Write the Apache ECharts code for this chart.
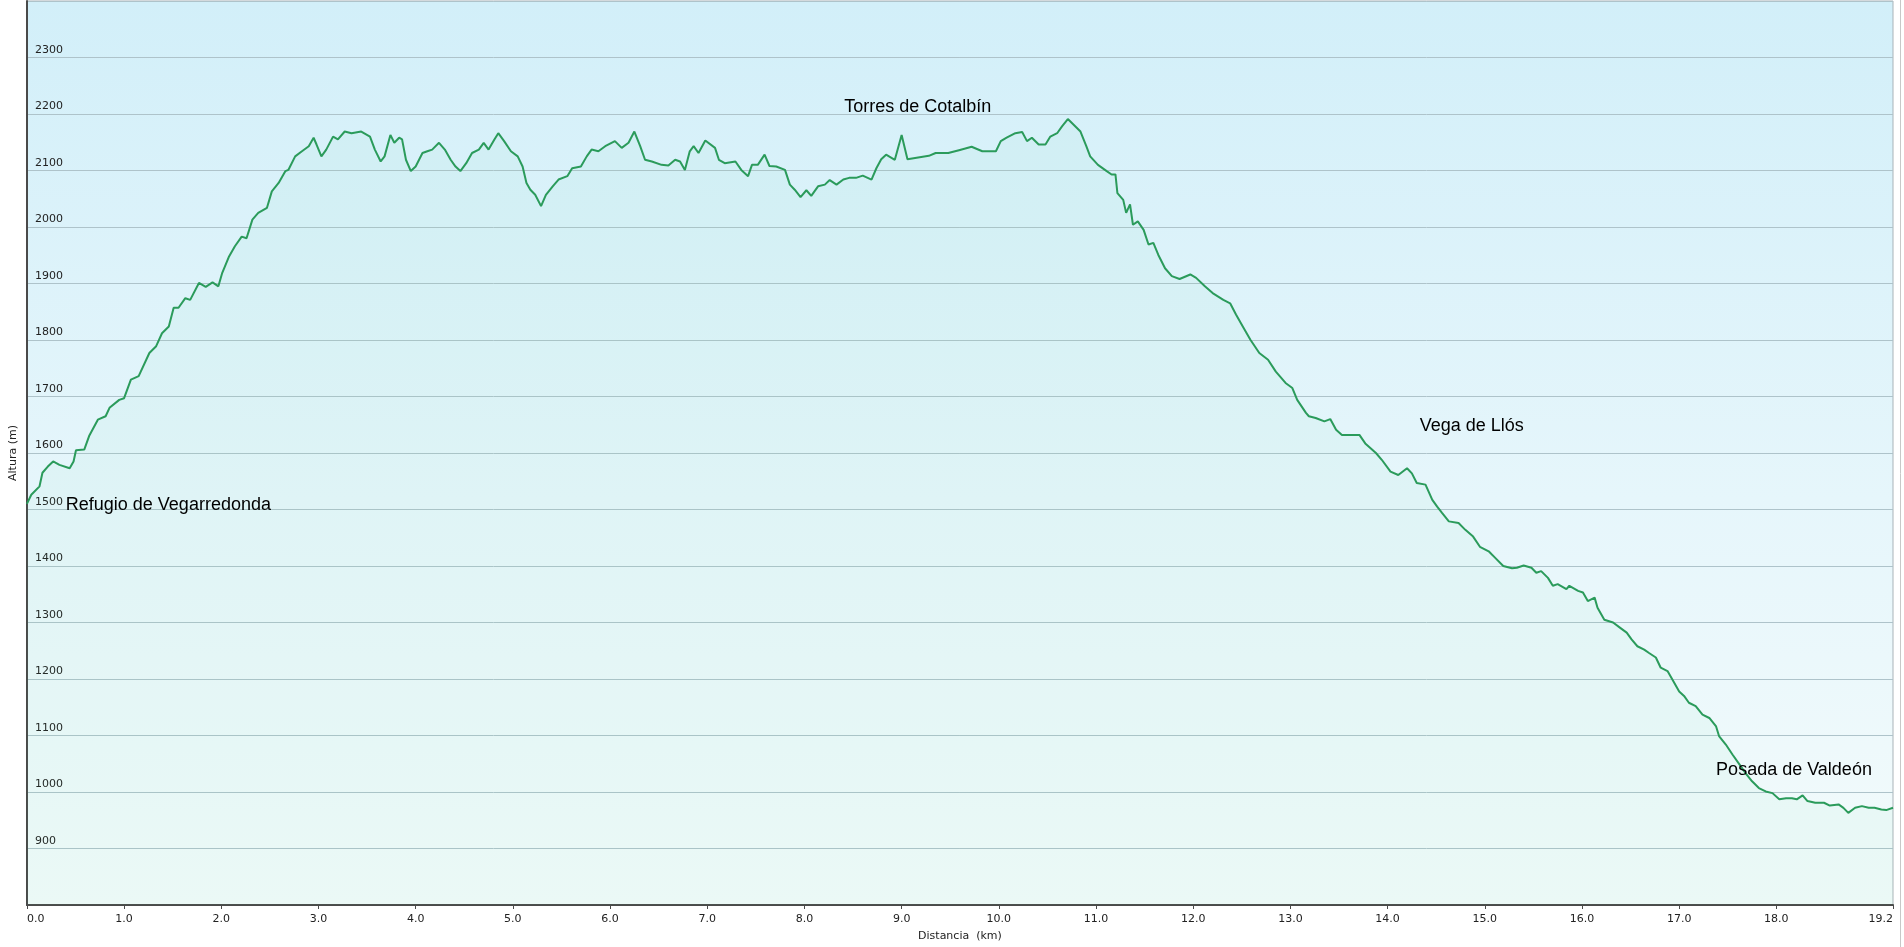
<!DOCTYPE html>
<html>
<head>
<meta charset="utf-8">
<script src="https://cdn.jsdelivr.net/npm/echarts@6/dist/echarts.min.js"></script>
<style>
html,body{margin:0;padding:0;background:#fff;}
#chart{width:1904px;height:947px;}
</style>
</head>
<body>
<div id="chart"></div>
<script>
const distKm = [0.00,0.045,0.13,0.16,0.215,0.27,0.335,0.44,0.48,0.505,0.59,0.64,0.73,0.81,0.85,0.95,1.00,1.07,1.15,1.26,1.33,1.39,1.46,1.51,1.56,1.63,1.68,1.77,1.84,1.91,1.97,2.01,2.08,2.14,2.21,2.26,2.32,2.38,2.47,2.52,2.59,2.66,2.69,2.76,2.83,2.90,2.95,2.98,3.03,3.08,3.15,3.20,3.27,3.34,3.44,3.53,3.58,3.64,3.68,3.74,3.78,3.83,3.86,3.90,3.95,4.00,4.07,4.12,4.17,4.24,4.30,4.36,4.41,4.46,4.52,4.58,4.65,4.70,4.75,4.81,4.85,4.91,4.98,5.05,5.10,5.14,5.18,5.23,5.29,5.34,5.41,5.47,5.56,5.61,5.70,5.76,5.81,5.88,5.95,6.05,6.12,6.19,6.25,6.31,6.36,6.43,6.53,6.60,6.67,6.72,6.77,6.82,6.86,6.91,6.98,7.08,7.12,7.18,7.29,7.35,7.42,7.46,7.52,7.59,7.64,7.71,7.80,7.85,7.90,7.96,8.02,8.07,8.14,8.21,8.26,8.33,8.40,8.46,8.53,8.60,8.69,8.74,8.79,8.84,8.93,9.00,9.06,9.28,9.35,9.48,9.59,9.72,9.83,9.97,10.02,10.08,10.17,10.24,10.29,10.34,10.41,10.48,10.53,10.60,10.65,10.71,10.77,10.84,10.90,10.94,11.02,11.11,11.16,11.20,11.22,11.28,11.31,11.35,11.38,11.43,11.49,11.54,11.59,11.64,11.71,11.78,11.86,11.97,12.03,12.12,12.20,12.31,12.38,12.44,12.51,12.59,12.68,12.77,12.85,12.95,13.02,13.07,13.16,13.19,13.26,13.35,13.41,13.47,13.53,13.64,13.71,13.77,13.88,13.94,14.03,14.11,14.20,14.25,14.30,14.39,14.46,14.51,14.56,14.63,14.73,14.80,14.88,14.95,15.04,15.11,15.19,15.28,15.33,15.40,15.48,15.53,15.58,15.65,15.70,15.75,15.84,15.87,15.96,16.01,16.06,16.13,16.16,16.23,16.32,16.39,16.46,16.51,16.57,16.64,16.69,16.76,16.81,16.88,16.93,17.00,17.05,17.10,17.17,17.24,17.31,17.38,17.41,17.48,17.55,17.62,17.68,17.75,17.82,17.89,17.96,18.03,18.10,18.16,18.21,18.27,18.32,18.40,18.49,18.55,18.64,18.69,18.74,18.81,18.88,18.95,19.01,19.08,19.13,19.20];
const altM = [1510,1526,1541,1565,1576,1585,1579,1573,1585,1605,1606,1630,1659,1665,1680,1694,1697,1730,1736,1777,1789,1812,1824,1857,1857,1874,1871,1901,1894,1902,1895,1919,1948,1966,1983,1980,2013,2025,2034,2063,2078,2099,2101,2125,2134,2143,2158,2146,2125,2137,2160,2155,2169,2166,2169,2160,2137,2116,2125,2163,2149,2158,2155,2119,2099,2107,2131,2134,2137,2149,2137,2119,2107,2099,2113,2131,2137,2149,2137,2155,2166,2152,2134,2125,2107,2078,2066,2057,2037,2057,2072,2084,2090,2104,2107,2125,2137,2134,2143,2152,2140,2149,2169,2143,2119,2116,2110,2109,2119,2116,2101,2134,2143,2131,2153,2140,2119,2113,2116,2101,2090,2110,2110,2128,2108,2107,2101,2075,2066,2053,2065,2055,2072,2075,2083,2075,2084,2087,2087,2091,2084,2104,2120,2128,2119,2163,2120,2126,2131,2131,2136,2142,2134,2134,2152,2158,2166,2168,2152,2158,2146,2146,2160,2166,2178,2191,2181,2169,2143,2125,2110,2099,2093,2093,2060,2048,2025,2040,2004,2010,1995,1969,1972,1951,1927,1913,1908,1916,1910,1895,1883,1871,1865,1845,1824,1800,1777,1765,1744,1724,1715,1694,1671,1665,1662,1656,1660,1641,1632,1632,1632,1617,1600,1588,1567,1561,1573,1564,1547,1544,1517,1505,1494,1479,1476,1464,1452,1434,1426,1414,1400,1396,1397,1401,1397,1388,1391,1379,1365,1368,1359,1365,1356,1353,1338,1344,1326,1305,1300,1291,1282,1270,1258,1252,1246,1238,1220,1214,1199,1178,1170,1158,1152,1137,1131,1116,1099,1084,1066,1049,1034,1019,1007,1001,998,987,989,989,987,994,984,981,981,976,978,972,963,972,975,972,972,969,968,972];
const xTickValues = [0,1,2,3,4,5,6,7,8,9,10,11,12,13,14,15,16,17,18,19.2];
const waypointNames = ['Refugio de Vegarredonda','Torres de Cotalbín','Vega de Llós','Posada de Valdeón'];
const waypointKm = [0.40, 8.41, 14.33, 17.38];
const waypointAlt = [1508, 2213, 1647, 1039];

const chart = echarts.init(document.getElementById('chart'), null, {renderer:'canvas'});
const lineData = distKm.map((d,i)=>[d, altM[i]]);
const axisFont = {fontFamily:'DejaVu Sans', fontSize:11, color:'#222'};

chart.setOption({
  animation:false,
  backgroundColor:'#ffffff',
  grid:{
    left:19, right:11, top:1, bottom:41,
    show:true,
    borderColor:'#a9b3b8', borderWidth:1,
    backgroundColor:new echarts.graphic.LinearGradient(0,0,0,1,[
      {offset:0,color:'#d2eff9'},
      {offset:0.55,color:'#e6f6fb'},
      {offset:1,color:'#f3fbfb'}
    ])
  },
  xAxis:{
    type:'value', min:0, max:19.2,
    name:'Distancia  (km)', nameLocation:'middle', nameGap:26,
    nameTextStyle:axisFont,
    axisLine:{show:true, onZero:false, lineStyle:{color:'#4a4a4a', width:2}},
    axisTick:{show:true, length:4, customValues:xTickValues, lineStyle:{color:'#4a4a4a', width:1}},
    axisLabel:Object.assign({customValues:xTickValues, margin:9, formatter:v=>v.toFixed(1), alignMinLabel:'left', alignMaxLabel:'right'}, axisFont),
    splitLine:{show:false}
  },
  yAxis:{
    type:'value', min:800, max:2400, interval:100,
    name:'Altura (m)', nameLocation:'middle', nameGap:4,
    nameTextStyle:Object.assign({verticalAlign:'bottom'}, axisFont),
    axisLine:{show:true, lineStyle:{color:'#4a4a4a', width:2}},
    axisTick:{show:false},
    axisLabel:Object.assign({inside:true, margin:8, verticalAlign:'bottom', padding:[0,0,2,0], showMinLabel:false, showMaxLabel:false, formatter:v=>String(v)}, axisFont),
    splitLine:{show:true, lineStyle:{color:'#aec3ca', width:1}}
  },
  series:[{
    type:'line',
    data:lineData,
    showSymbol:false,
    symbol:'none',
    lineStyle:{color:'#2b9b5b', width:2},
    areaStyle:{color:'rgba(100,220,160,0.07)'},
    markPoint:{
      symbol:'circle', symbolSize:0,
      label:{show:true, position:'right', distance:0, fontFamily:'Liberation Sans', fontSize:18, color:'#000', formatter:p=>p.name},
      data:waypointNames.map((n,i)=>({name:n, coord:[waypointKm[i], waypointAlt[i]]}))
    }
  }],
  graphic:[{
    type:'line', shape:{x1:1900.5, y1:0, x2:1900.5, y2:947}, style:{stroke:'#c8c8c8', lineWidth:1}
  }]
});
</script>
</body>
</html>
